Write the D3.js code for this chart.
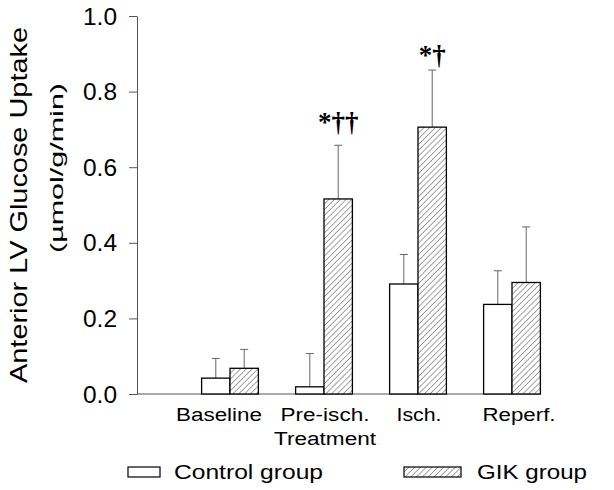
<!DOCTYPE html>
<html><head><meta charset="utf-8">
<script src="https://cdn.jsdelivr.net/npm/d3@7"></script>
<style>body{margin:0;background:#fff}svg{display:block}text{font-family:"Liberation Sans",Arial,sans-serif;fill:#000}</style>
</head><body>
<svg id="c" width="614" height="490"></svg>
<script>
const categories = ["Baseline", "Pre-isch.\nTreatment", "Isch.", "Reperf."];
const controlValues = [0.042, 0.019, 0.291, 0.237];
const controlErrors = [0.052, 0.088, 0.078, 0.089];
const gikValues = [0.068, 0.516, 0.706, 0.295];
const gikErrors = [0.050, 0.142, 0.151, 0.147];
const yTicks = [0.0, 0.2, 0.4, 0.6, 0.8, 1.0];
const annotations = ["", "*††", "*†", ""];
const annotationY = [null, 0.685, 0.862, null];
const seriesNames = ["Control group", "GIK group"];

const svg = d3.select("#c");
function stext(g, x, y, str, size, anchor, len, rot) {
  const t = g.append("text")
    .attr("transform", `translate(${x},${y})` + (rot ? ` rotate(${rot})` : ""))
    .attr("text-anchor", anchor || "middle")
    .style("font-size", size + "px")
    .text(str);
  if (len) t.attr("textLength", len).attr("lengthAdjust", "spacingAndGlyphs");
  return t;
}

const defs = svg.append("defs");
const pat = defs.append("pattern").attr("id", "hatch").attr("patternUnits", "userSpaceOnUse")
  .attr("width", 4.1).attr("height", 4.1).attr("patternTransform", "rotate(45)");
pat.append("rect").attr("width", 4.1).attr("height", 4.1).attr("fill", "#fff");
pat.append("line").attr("x1", 0).attr("y1", 0).attr("x2", 0).attr("y2", 4.1)
  .attr("stroke", "#333").attr("stroke-width", 0.9);

const y = d3.scaleLinear().domain([0, 1]).range([394, 16]);
const x = d3.scaleBand().domain(categories).range([183, 559]).padding(0);
const bw = x.bandwidth() * 0.302;
const cx = c => x(c) + x.bandwidth() / 2;

// y axis
const yAxis = d3.axisLeft(y).tickValues(yTicks).tickFormat(d3.format(".1f")).tickSize(8).tickSizeOuter(0);
const ga = svg.append("g").attr("transform", "translate(137,0)").call(yAxis);
ga.select(".domain").attr("stroke", "#555");
ga.selectAll(".tick line").attr("stroke", "#555");
ga.selectAll(".tick text").remove();
yTicks.forEach(v => stext(svg, 117, y(v) + 8.5, d3.format(".1f")(v), 23, "end", 34));

// x axis line
svg.append("line").attr("x1", 137).attr("x2", cx(categories[3]) + bw)
  .attr("y1", y(0)).attr("y2", y(0)).attr("stroke", "#555").attr("stroke-width", 1);

// bars
const labelLens = [[86], [89, 102], [45], [73]];
const gb = svg.append("g");
categories.forEach((c, i) => {
  const m = cx(c);
  [[controlValues, controlErrors, m - bw, "#fff"], [gikValues, gikErrors, m, "url(#hatch)"]].forEach(([vals, errs, x0, fill]) => {
    const v = vals[i], e = errs[i];
    const xc = x0 + bw / 2;
    gb.append("line").attr("x1", xc).attr("x2", xc).attr("y1", y(v)).attr("y2", y(v + e))
      .attr("stroke", "#666").attr("stroke-width", 1);
    gb.append("line").attr("x1", xc - 4).attr("x2", xc + 4).attr("y1", y(v + e)).attr("y2", y(v + e))
      .attr("stroke", "#666").attr("stroke-width", 1);
    gb.append("rect").attr("x", x0).attr("y", y(v)).attr("width", bw).attr("height", y(0) - y(v))
      .attr("fill", fill).attr("stroke", "#000").attr("stroke-width", 1.3);
  });
  if (annotations[i]) {
    svg.append("text").attr("x", m + bw / 2).attr("y", y(annotationY[i]) - 4)
      .attr("text-anchor", "middle")
      .style("font-family", "'Liberation Serif','Times New Roman',serif")
      .style("font-size", "27px").style("font-weight", "bold")
      .text(annotations[i]);
  }
  const shift = i === 0 ? -11 : (i === 3 ? 7 : 1);
  c.split("\n").forEach((line, k) => stext(svg, m + shift, 421 + k * 24, line, 18.8, "middle", labelLens[i][k]));
});

// y title
stext(svg, 27, 205, "Anterior LV Glucose Uptake", 24, "middle", 356, -90);
stext(svg, 63, 168, "(µmol/g/min)", 18, "middle", 170, -90);

// legend
svg.append("rect").attr("x", 128).attr("y", 467).attr("width", 32).attr("height", 10)
  .attr("fill", "#fff").attr("stroke", "#000").attr("stroke-width", 1.2);
stext(svg, 174, 479, seriesNames[0], 21, "start", 149);
svg.append("rect").attr("x", 404).attr("y", 467).attr("width", 57).attr("height", 10)
  .attr("fill", "url(#hatch)").attr("stroke", "#000").attr("stroke-width", 1.2);
stext(svg, 477, 479, seriesNames[1], 21, "start", 110);
</script>
</body></html>
